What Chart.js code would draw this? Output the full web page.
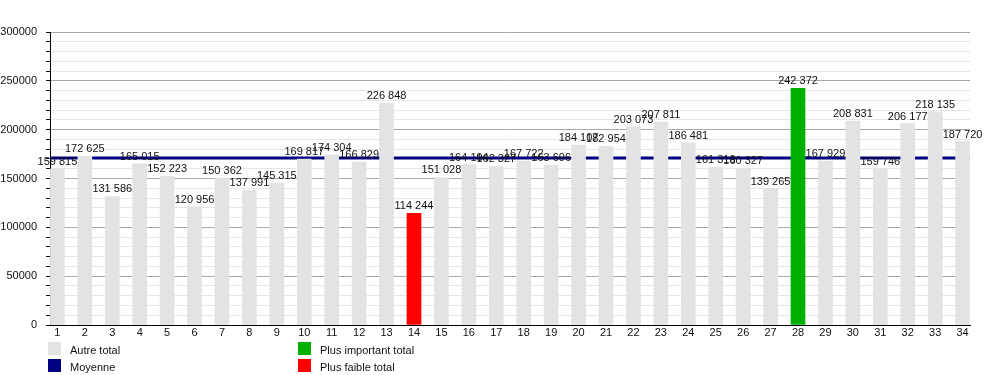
<!DOCTYPE html>
<html>
<head>
<meta charset="utf-8">
<script src="https://cdn.jsdelivr.net/npm/chart.js@4/dist/chart.umd.min.js"></script>
<style>
  html, body { margin: 0; padding: 0; background: #fff; }
  #wrap { position: relative; width: 1000px; height: 375px; font-family: "Liberation Sans", Arial, sans-serif; }
  canvas { position: absolute; left: 0; top: 0; }
  .lg { position: absolute; font-size: 11px; color: #111; line-height: 13px; }
  .sw { position: absolute; width: 13px; height: 13px; }
</style>
</head>
<body>
<div id="wrap">
  <canvas id="c" width="1000" height="375"></canvas>
  <div class="sw" style="left:48px;top:342px;background:#e3e3e3"></div>
  <div class="lg" style="left:70px;top:344px">Autre total</div>
  <div class="sw" style="left:48px;top:359px;background:#000080"></div>
  <div class="lg" style="left:70px;top:361px">Moyenne</div>
  <div class="sw" style="left:298px;top:342px;background:#00b000"></div>
  <div class="lg" style="left:320px;top:344px">Plus important total</div>
  <div class="sw" style="left:298px;top:359px;background:#ff0000"></div>
  <div class="lg" style="left:320px;top:361px">Plus faible total</div>
</div>
<script>
const categories = ["1","2","3","4","5","6","7","8","9","10","11","12","13","14","15","16","17","18","19","20","21","22","23","24","25","26","27","28","29","30","31","32","33","34"];
const totals = [159815,172625,131586,165015,152223,120956,150362,137991,145315,169817,174304,166829,226848,114244,151028,164194,162327,167722,163696,184107,182954,203073,207811,186481,161319,160327,139265,242372,167929,208831,159746,206177,218135,187720];
const yTickLabels = ["0","50000","100000","150000","200000","250000","300000"];

const X_MIN = 0.73, X_MAX = 34.27;
const maxV = Math.max(...totals), minV = Math.min(...totals);
const mean = totals.reduce((a,b)=>a+b,0) / totals.length;
const barColors = totals.map(v => v === maxV ? '#00b000' : (v === minV ? '#ff0000' : '#e3e3e3'));
const fmt = v => String(v).replace(/\B(?=(\d{3})+(?!\d))/g, ' ');

const labelPlugin = {
  id: 'valLabels',
  afterDatasetsDraw(chart) {
    const meta = chart.getDatasetMeta(0);
    const ctx = chart.ctx;
    ctx.save();
    ctx.font = '11px "Liberation Sans", Arial, sans-serif';
    ctx.fillStyle = '#111';
    ctx.textAlign = 'center';
    ctx.textBaseline = 'alphabetic';
    meta.data.forEach((bar, i) => {
      ctx.fillText(fmt(totals[i]), bar.x, bar.y - 4);
    });
    ctx.restore();
  }
};

new Chart(document.getElementById('c'), {
  type: 'bar',
  data: {
    datasets: [
      {
        type: 'bar',
        label: 'Totaux',
        data: totals.map((v, i) => ({ x: i + 1, y: v })),
        backgroundColor: barColors,
        barThickness: 14,
        order: 0
      },
      {
        type: 'line',
        label: 'Moyenne',
        data: [{ x: X_MIN, y: mean }, { x: X_MAX, y: mean }],
        borderColor: '#000080',
        borderWidth: 3,
        pointRadius: 0,
        fill: false,
        order: 5
      }
    ]
  },
  options: {
    responsive: false,
    animation: false,
    layout: { padding: { left: 0, right: 30, top: 32, bottom: 0 } },
    plugins: { legend: { display: false }, tooltip: { enabled: false } },
    scales: {
      x: {
        type: 'linear',
        min: X_MIN,
        max: X_MAX,
        offset: false,
        afterFit(s) { s.height = 50; },
        ticks: {
          stepSize: 1,
          includeBounds: false,
          autoSkip: false,
          maxRotation: 0,
          padding: 1,
          color: '#111',
          font: { family: '"Liberation Sans", Arial, sans-serif', size: 11 },
          callback: v => categories[v - 1] ?? ''
        },
        grid: { drawOnChartArea: false, drawTicks: false },
        border: { display: true, color: '#000', width: 1 }
      },
      y: {
        min: 0,
        max: 300000,
        afterFit(s) { s.width = 50; },
        ticks: {
          stepSize: 10000,
          autoSkip: false,
          padding: 9,
          color: '#111',
          font: { family: '"Liberation Sans", Arial, sans-serif', size: 11 },
          callback: v => (v % 50000 === 0 ? yTickLabels[v / 50000] : '')
        },
        grid: {
          color: c => (c.tick && c.tick.value % 50000 === 0 ? '#a8a8a8' : '#e6e6e6'),
          tickColor: '#000',
          tickLength: 4
        },
        border: { display: true, color: '#000', width: 1 }
      }
    }
  },
  plugins: [labelPlugin]
});
</script>
</body>
</html>
